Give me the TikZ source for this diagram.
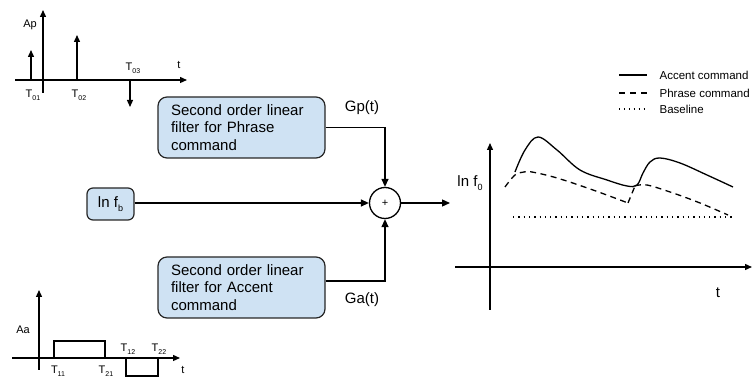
\documentclass[tikz,border=0pt]{standalone}
\usepackage{fontspec}
\setmainfont{Liberation Sans}
\usetikzlibrary{arrows.meta,calc}
\definecolor{boxblue}{HTML}{CFE2F3}
\newcommand{\lowsub}[2]{\raisebox{-#1}{\fontsize{7}{7}\selectfont #2}}
\begin{document}
\begin{tikzpicture}[x=1pt,y=-1pt,line width=1.3pt,
  arr/.style={-{Triangle[length=8pt,width=7pt]}},
  sarr/.style={-{Triangle[length=7pt,width=6pt]}},
  filt/.style={draw=black!85,fill=boxblue,rounded corners=9pt,line width=1.2pt,
    align=left,font=\fontsize{15}{17.5}\selectfont,minimum width=167pt,
    minimum height=61pt,inner sep=0pt,text width=141pt},
  small/.style={font=\fontsize{11}{12}\selectfont,inner sep=0pt},
  mid/.style={font=\fontsize{15}{17}\selectfont,inner sep=0pt},
  leg/.style={font=\fontsize{11.5}{12}\selectfont,inner sep=0pt,anchor=west}]
\useasboundingbox (0,0) rectangle (753,379);

% ---- top-left: phrase commands
\draw[sarr] (15,80) -- (187,80);
\draw[sarr] (43,93) -- (43,10);
\draw[sarr] (31,80) -- (31,50);
\draw[sarr] (77,80) -- (77,35);
\draw[sarr] (130,80) -- (130,107);
\node[small] (ap) at (30,25) {Ap};
\node[small] (t1) at (179,65) {t};
\node[small] (t01) at (33,95) {T\lowsub{3pt}{01}};
\node[small] (t02) at (79,95) {T\lowsub{3pt}{02}};
\node[small] (t03) at (133,68) {T\lowsub{3pt}{03}};

% ---- bottom-left: accent commands
\draw[sarr] (12,358) -- (180,358);
\draw[sarr] (39,370) -- (39,290);
\draw (54,358) -- (54,341) -- (105,341) -- (105,358);
\draw (126,358) -- (126,376) -- (158,376) -- (158,358);
\node[small] (aa) at (23,330) {Aa};
\node[small] (t2) at (183,370) {t};
\node[small] (t11) at (58,371.5) {T\lowsub{3pt}{11}};
\node[small] (t21) at (106,371.5) {T\lowsub{3pt}{21}};
\node[small] (t12) at (128,349) {T\lowsub{3pt}{12}};
\node[small] (t22) at (159,349) {T\lowsub{3pt}{22}};

% ---- filters and sum
\node[filt] (pbox) at (241.5,127.5) {Second order linear\\filter for Phrase\\command};
\node[filt] (abox) at (241.5,287.5) {Second order linear\\filter for Accent\\command};
\node[draw=black!85,fill=boxblue,rounded corners=6pt,line width=1.2pt,
  minimum width=47pt,minimum height=32pt,inner sep=0pt,
  font=\fontsize{15}{17}\selectfont] (lnfb) at (110.5,204) {ln f\lowsub{4pt}{\fontsize{9}{9}\selectfont b}};
\node[circle,draw,minimum size=31pt,inner sep=0pt,
  font=\fontsize{11}{12}\selectfont] (sum) at (385,203) {+};
\coordinate (gpc) at (385,127.5);
\coordinate (gac) at (385,281);
\coordinate (outend) at (450,203);
\draw[arr] (pbox.east) -- (gpc) -- (sum.north);
\draw[arr] (abox.east |- gac) -- (gac) -- (sum.south);
\draw[arr] (lnfb.east |- sum.west) -- (sum.west);
\draw[arr] (sum.east) -- (outend);
\node[mid] (gp) at (362,108) {Gp(t)};
\node[mid] (ga) at (362,300) {Ga(t)};

% ---- right: resulting contour
\draw[sarr] (490,310) -- (490,143);
\draw[sarr] (455,267) -- (752,267);
\node[mid] (lnf0) at (470,183) {ln f\lowsub{4pt}{\fontsize{9}{9}\selectfont 0}};
\node[mid] (t3) at (718,293) {t};
\draw[line width=1.3pt] plot[smooth,tension=0.6] coordinates
  {(515,172) (525,150) (538,137) (557,150) (580,170) (607,180) (627,186) (637,185) (643,173) (650,162) (660,158) (680,163) (707,175) (733,187)};
\draw[line width=1.3pt,dash pattern=on 6pt off 4.5pt] plot[smooth,tension=0.6] coordinates
  {(505,187) (515,175) (524,172) (532,172) (557,178) (593,190) (628,203)};
\draw[line width=1.3pt,dash pattern=on 6pt off 4.5pt] (628,203) -- (635,186)
  plot[smooth,tension=0.6] coordinates {(635,186) (647,185) (673,193) (700,203) (728,215)};
\draw[line width=1.3pt,dash pattern=on 1.3pt off 4pt] (513,217) -- (735,217);

% ---- legend
\draw[line width=1.3pt] (619,75) -- (647,75);
\draw[line width=1.3pt,dash pattern=on 6pt off 5pt] (619,93) -- (647,93);
\draw[line width=1.3pt,dash pattern=on 1.3pt off 3.6pt] (619,109) -- (647,109);
\node[leg] (l1) at (659,75) {Accent command};
\node[leg] (l2) at (659,93) {Phrase command};
\node[leg] (l3) at (659,109) {Baseline};
\end{tikzpicture}
\end{document}
